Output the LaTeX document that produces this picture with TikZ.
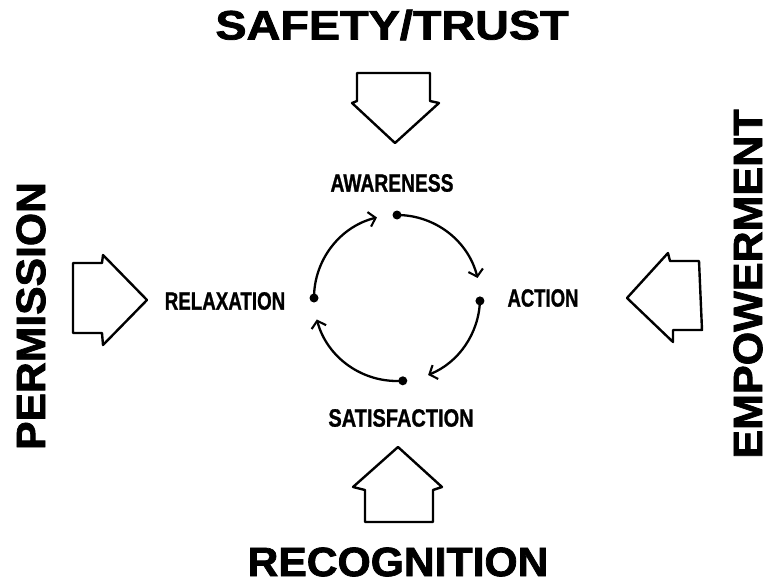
\documentclass[tikz,border=0pt]{standalone}
\usepackage{fontspec}
\newfontfamily\heavyfont[BoldFeatures={FakeBold=1.8}]{Liberation Sans}
\newfontfamily\labelfont[BoldFeatures={FakeBold=1.2}]{Liberation Sans}
\usetikzlibrary{arrows.meta,calc}
\tikzset{
  bigarrow/.style={draw=black, line width=2.4pt, line join=round, fill=white},
  cyc/.style={draw=black, line width=2.3pt, -{Straight Barb[length=6.5pt,width=15pt,line width=2.1pt]}},
  dotmark/.style={circle, fill=black, inner sep=0pt, minimum size=9pt},
  bigtext/.style={inner sep=0pt, font=\heavyfont\bfseries\fontsize{41}{41}\selectfont},
  smalltext/.style={inner sep=0pt, font=\labelfont\bfseries\fontsize{25}{25}\selectfont}
}
\begin{document}
\begin{tikzpicture}[x=1pt,y=1pt]
\useasboundingbox (0,0) rectangle (768,-586);
\fill[white] (0,0) rectangle (768,-586);

% big labels
\node[bigtext] (safety) at (392,-25) {\scalebox{1.14}[1]{SAFETY/TRUST}};
\node[bigtext] (recog) at (398,-562) {\scalebox{1.04}[1]{RECOGNITION}};
\node[bigtext, rotate=90] (perm) at (31,-316) {\scalebox{1.04}[1]{PERMISSION}};
\node[bigtext, rotate=90] (empow) at (748,-284) {\scalebox{1.05}[1]{EMPOWERMENT}};

% small labels
\node[smalltext] (aware) at (392,-183) {\scalebox{0.77}[1]{AWARENESS}};
\node[smalltext] (relax) at (225,-301) {\scalebox{0.75}[1]{RELAXATION}};
\node[smalltext] (action) at (543,-298) {\scalebox{0.74}[1]{ACTION}};
\node[smalltext] (satis) at (401,-418) {\scalebox{0.8}[1]{SATISFACTION}};

% big block arrows
\draw[bigarrow] (357,-73) -- (430,-73) -- (430,-101) -- (439,-103) -- (395,-143) -- (352,-103) -- (357,-101) -- cycle;
\draw[bigarrow] (73,-263) -- (102,-263) -- (103,-255) -- (147,-300) -- (103,-345) -- (102,-333) -- (73,-333) -- cycle;
\draw[bigarrow] (699,-261) -- (670,-261) -- (668,-253) -- (627,-298) -- (673,-342) -- (673,-330) -- (702,-330) -- cycle;
\draw[bigarrow] (365,-522) -- (433,-522) -- (433,-490) -- (442,-487) -- (398,-447) -- (353,-487) -- (365,-490) -- cycle;

% cycle
\coordinate (c) at (397,-298);
\coordinate (dT) at ($(c)+(90:83pt)$);
\coordinate (dR) at ($(c)+(-2:83pt)$);
\coordinate (dB) at ($(c)+(-86:83pt)$);
\coordinate (dL) at ($(c)+(180:83pt)$);
\draw[cyc] (dT) arc[start angle=90, end angle=14, radius=83pt];
\draw[cyc] (dR) arc[start angle=-2, end angle=-68, radius=83pt];
\draw[cyc] (dB) arc[start angle=-86, end angle=-165, radius=83pt];
\draw[cyc] (dL) arc[start angle=180, end angle=104, radius=83pt];
\node[dotmark] (pT) at (dT) {};
\node[dotmark] (pR) at (dR) {};
\node[dotmark] (pB) at (dB) {};
\node[dotmark] (pL) at (dL) {};
\end{tikzpicture}
\end{document}
